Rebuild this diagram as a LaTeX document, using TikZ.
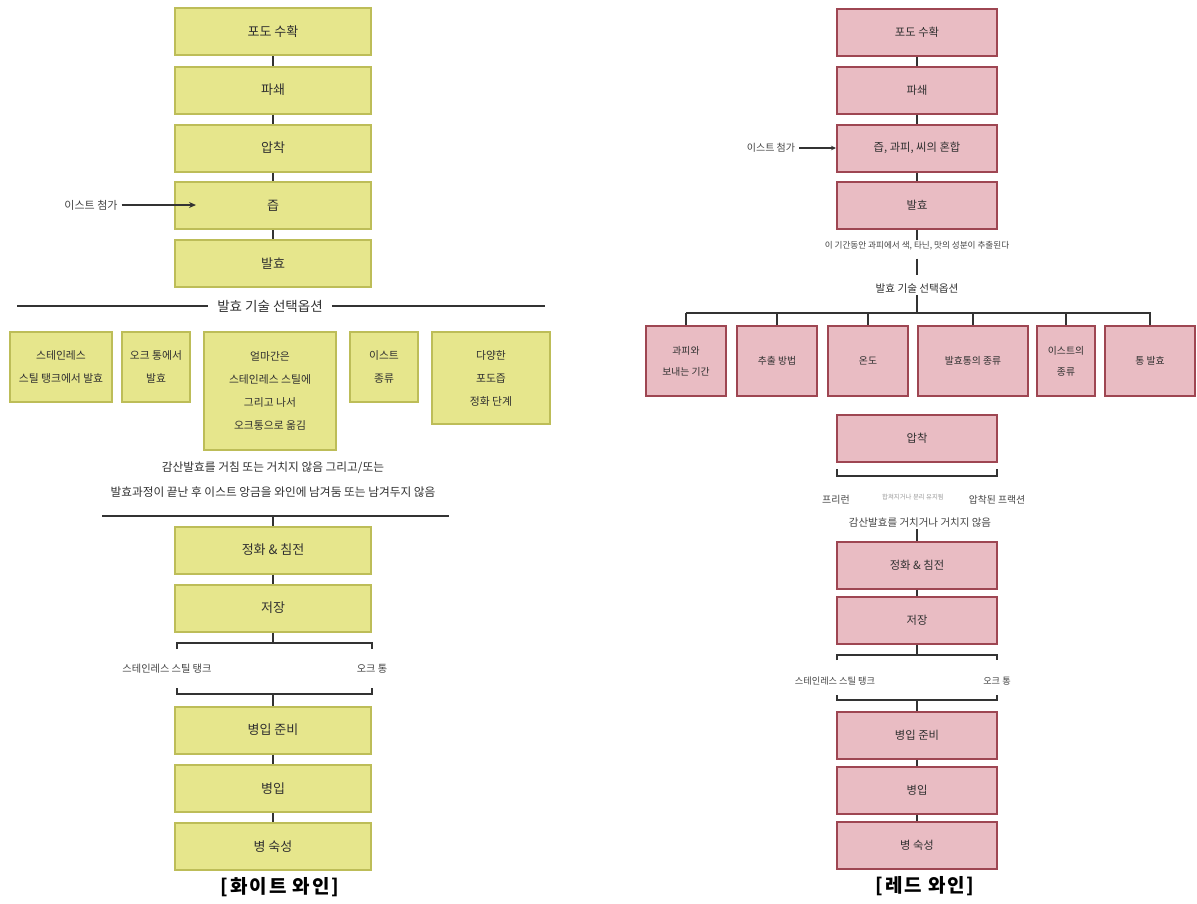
\documentclass[tikz,border=0pt]{standalone}
\usepackage{fontspec}
\setmainfont{Noto Sans CJK KR}
\newfontfamily\capfont[LetterSpace=10]{Noto Sans CJK KR}
\usetikzlibrary{arrows.meta}
\definecolor{wfill}{HTML}{E6E68C}
\definecolor{wline}{HTML}{BDBD58}
\definecolor{rfill}{HTML}{E9BCC3}
\definecolor{rline}{HTML}{9E4652}
\definecolor{txtc}{HTML}{303030}
\definecolor{lblc}{HTML}{444444}
\definecolor{connc}{HTML}{333333}
\definecolor{softc}{HTML}{9A9A9A}
\begin{document}
\begin{tikzpicture}[x=1pt,y=-1pt,
  wbox/.style={draw=wline, fill=wfill, line width=2pt, inner sep=0pt, text=txtc, align=center},
  wmain/.style={wbox, minimum width=196pt, minimum height=47pt, font=\fontsize{13}{15}\selectfont},
  wopt/.style={wbox, font=\fontsize{10.8}{23}\selectfont},
  rbox/.style={draw=rline, fill=rfill, line width=2pt, inner sep=0pt, text=txtc, align=center},
  rmain/.style={rbox, minimum width=160pt, minimum height=47pt, font=\fontsize{11.3}{13}\selectfont},
  ropt/.style={rbox, minimum height=70pt, font=\fontsize{9.8}{21}\selectfont},
  sidelbl/.style={text=lblc, inner sep=2pt, align=center},
  conn/.style={draw=connc, line width=1.3pt},
  brk/.style={draw=connc, line width=1.8pt},
  hline/.style={draw=connc, line width=2.2pt},
  arr/.style={conn, -{Stealth[length=7pt,width=6pt]}},
  captxt/.style={text=black, inner sep=0pt, font=\capfont\bfseries\fontsize{19}{22}\selectfont},
]
\useasboundingbox (0,0) rectangle (1197,903);

% ================= WHITE WINE =================
\node[wmain] (w1) at (273,31.5) {포도 수확};
\node[wmain] (w2) at (273,90) {파쇄};
\node[wmain] (w3) at (273,148) {압착};
\node[wmain] (w4) at (273,205.5) {즙};
\node[wmain] (w5) at (273,263.5) {발효};
\draw[conn] (w1.south) -- (w2.north);
\draw[conn] (w2.south) -- (w3.north);
\draw[conn] (w3.south) -- (w4.north);
\draw[conn] (w4.south) -- (w5.north);

\node[sidelbl, font=\fontsize{11}{13}\selectfont, inner sep=4pt] (wy) at (91,205) {이스트 첨가};
\coordinate (wyt) at (196,205);
\draw[arr] (wy.east) -- (wyt);

\node[text=txtc, inner xsep=9pt, inner ysep=2pt, font=\fontsize{13.5}{15}\selectfont] (wt) at (270,306) {발효 기술 선택옵션};
\coordinate (wtl) at (17,306);
\coordinate (wtr) at (545,306);
\draw[hline] (wtl) -- (wt.west);
\draw[hline] (wt.east) -- (wtr);

\node[wopt, minimum width=102pt, minimum height=70pt] (wa) at (61,367) {스테인레스\\스틸 탱크에서 발효};
\node[wopt, minimum width=68pt, minimum height=70pt] (wb) at (156,367) {오크 통에서\\발효};
\node[wopt, minimum width=132pt, minimum height=118pt] (wc) at (270,391) {얼마간은\\스테인레스 스틸에\\그리고 나서\\오크통으로 옮김};
\node[wopt, minimum width=68pt, minimum height=70pt] (wd) at (384,367) {이스트\\종류};
\node[wopt, minimum width=118pt, minimum height=92pt] (we) at (491,378) {다양한\\포도즙\\정화 단계};

\node[sidelbl, text=txtc, font=\fontsize{11.7}{25}\selectfont] (wn) at (273,479.5) {감산발효를 거침 또는 거치지 않음 그리고/또는\\발효과정이 끝난 후 이스트 앙금을 와인에 남겨둠 또는 남겨두지 않음};

\coordinate (wbl) at (102,516);
\coordinate (wbr) at (449,516);
\coordinate (wbm) at (273,516);
\draw[hline] (wbl) -- (wbr);

\node[wmain] (w6) at (273,550) {정화 \& 침전};
\node[wmain] (w7) at (273,608) {저장};
\draw[conn] (wbm) -- (w6.north);
\draw[conn] (w6.south) -- (w7.north);

\coordinate (wk1l) at (177,643);
\coordinate (wk1r) at (372,643);
\coordinate (wk1m) at (273,643);
\draw[conn] (w7.south) -- (wk1m);
\draw[brk] ([yshift=-6pt]wk1l) -- (wk1l) -- (wk1r) -- ([yshift=-6pt]wk1r);

\node[sidelbl, font=\fontsize{10.2}{12}\selectfont] (wss) at (167,669) {스테인레스 스틸 탱크};
\node[sidelbl, font=\fontsize{10.2}{12}\selectfont] (wok) at (372,669) {오크 통};

\coordinate (wk2l) at (177,694);
\coordinate (wk2r) at (372,694);
\coordinate (wk2m) at (273,694);
\draw[brk] ([yshift=6pt]wk2l) -- (wk2l) -- (wk2r) -- ([yshift=6pt]wk2r);

\node[wmain] (w8) at (273,730) {병입 준비};
\node[wmain] (w9) at (273,788.5) {병입};
\node[wmain] (w10) at (273,846.5) {병 숙성};
\draw[conn] (wk2m) -- (w8.north);
\draw[conn] (w8.south) -- (w9.north);
\draw[conn] (w9.south) -- (w10.north);

\node[captxt] (wcap) at (280,887) {[화이트 와인]};

% ================= RED WINE =================
\node[rmain] (r1) at (917,32) {포도 수확};
\node[rmain] (r2) at (917,90) {파쇄};
\node[rmain] (r3) at (917,148) {즙, 과피, 씨의 혼합};
\node[rmain] (r4) at (917,205) {발효};
\draw[conn] (r1.south) -- (r2.north);
\draw[conn] (r2.south) -- (r3.north);
\draw[conn] (r3.south) -- (r4.north);

\node[sidelbl, font=\fontsize{10}{12}\selectfont, inner sep=4pt] (ry) at (771,148) {이스트 첨가};
\draw[conn, -{Stealth[length=5pt,width=4.5pt]}] (ry.east) -- (r3.west);

\node[sidelbl, font=\fontsize{8.6}{10}\selectfont, inner sep=1pt] (rn1) at (917,246) {이 기간동안 과피에서 색, 타닌, 맛의 성분이 추출된다};
\draw[conn] (r4.south) -- (r4.south |- rn1.north);
\node[sidelbl, text=txtc, font=\fontsize{10.6}{12}\selectfont, inner sep=1pt] (rt) at (917,289) {발효 기술 선택옵션};
\draw[conn, shorten <=7pt, shorten >=8pt] (rn1.south) -- (rt.north);

\coordinate (rhl) at (686,313);
\coordinate (rhr) at (1151,313);
\coordinate (rhm) at (917,313);
\draw[conn] (rt.south) -- (rhm);
\draw[brk] (rhl) -- (rhr);

\node[ropt, minimum width=80pt] (ro1) at (686,361) {과피와\\보내는 기간};
\node[ropt, minimum width=80pt] (ro2) at (777,361) {추출 방법};
\node[ropt, minimum width=80pt] (ro3) at (868,361) {온도};
\node[ropt, minimum width=110pt] (ro4) at (973,361) {발효통의 종류};
\node[ropt, minimum width=58pt] (ro5) at (1066,361) {이스트의\\종류};
\node[ropt, minimum width=90pt] (ro6) at (1150,361) {통 발효};
\foreach \o in {ro1,ro2,ro3,ro4,ro5,ro6}{
  \draw[conn] (\o.north |- rhm) -- (\o.north);
}

\node[rmain] (r5) at (917,438) {압착};

\coordinate (rk0l) at (837,476);
\coordinate (rk0r) at (997,476);
\draw[brk] ([yshift=7pt]rk0l) -- (rk0l) -- (rk0r) -- ([yshift=7pt]rk0r);

\node[sidelbl, font=\fontsize{10}{12}\selectfont] (rfr) at (836,500) {프리런};
\node[sidelbl, text=softc, font=\fontsize{6.4}{8}\selectfont] (rmid) at (913,497) {합쳐지거나 분리 유지됨};
\node[sidelbl, font=\fontsize{9.8}{12}\selectfont] (rpf) at (997,500) {압착된 프랙션};
\node[sidelbl, font=\fontsize{10.5}{12}\selectfont, inner sep=1pt] (rn2) at (920,523) {감산발효를 거치거나 거치지 않음};

\node[rmain] (r6) at (917,565) {정화 \& 침전};
\node[rmain] (r7) at (917,620) {저장};
\draw[conn] (r6.north |- rn2.south) -- (r6.north);
\draw[conn] (r6.south) -- (r7.north);

\coordinate (rk1l) at (837,655);
\coordinate (rk1r) at (997,655);
\coordinate (rk1m) at (917,655);
\draw[conn] (r7.south) -- (rk1m);
\draw[brk] ([yshift=-5pt]rk1l) -- (rk1l) -- (rk1r) -- ([yshift=-5pt]rk1r);

\node[sidelbl, font=\fontsize{9.2}{11}\selectfont] (rss) at (835,681) {스테인레스 스틸 탱크};
\node[sidelbl, font=\fontsize{9.2}{11}\selectfont] (rok) at (997,681) {오크 통};

\coordinate (rk2l) at (837,700);
\coordinate (rk2r) at (997,700);
\coordinate (rk2m) at (917,700);
\draw[brk] ([yshift=5pt]rk2l) -- (rk2l) -- (rk2r) -- ([yshift=5pt]rk2r);

\node[rmain] (r8) at (917,735) {병입 준비};
\node[rmain] (r9) at (917,790) {병입};
\node[rmain] (r10) at (917,845) {병 숙성};
\draw[conn] (rk2m) -- (r8.north);
\draw[conn] (r8.south) -- (r9.north);
\draw[conn] (r9.south) -- (r10.north);

\node[captxt] (rcap) at (925,886) {[레드 와인]};
\end{tikzpicture}
\end{document}
